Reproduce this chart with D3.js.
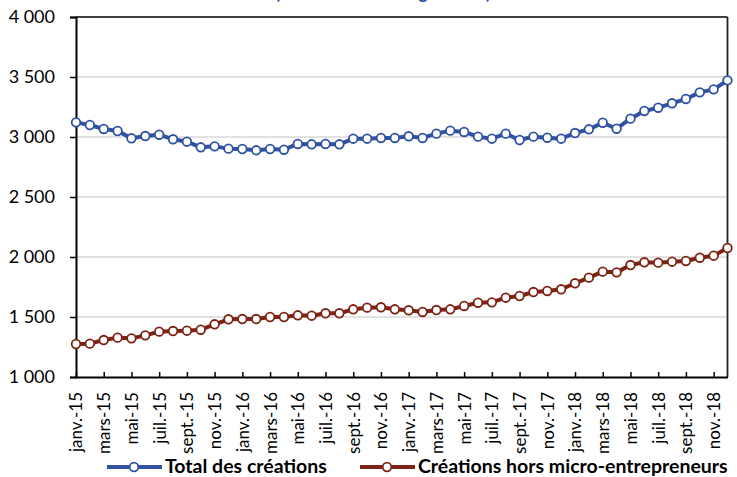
<!DOCTYPE html>
<html><head><meta charset="utf-8">
<script src="https://cdn.jsdelivr.net/npm/d3@7"></script>
<style>
body{margin:0;background:#fff;}
svg{display:block;font-family:Lato,"Open Sans",sans-serif;}
</style></head>
<body><svg id="c" width="737" height="477"></svg>
<script>
const monthNames = ["janv.","févr.","mars","avr.","mai","juin","juil.","août","sept.","oct.","nov.","déc."];
const years = ["15","16","17","18"];
const categories = years.flatMap(y => monthNames.map(m => m + "-" + y));
const totalCreations = [3122,3100,3067,3050,2989,3008,3019,2981,2961,2914,2922,2903,
  2900,2889,2900,2894,2942,2939,2942,2939,2986,2986,2992,2992,
  3006,2992,3028,3053,3042,3003,2986,3028,2975,3003,2994,2986,
  3033,3064,3119,3069,3153,3217,3244,3281,3317,3372,3397,3472];
const horsMicro = [1275,1278,1308,1328,1322,1347,1378,1383,1386,1394,1439,1481,
  1483,1483,1500,1500,1514,1511,1531,1531,1564,1578,1581,1564,
  1556,1542,1558,1564,1592,1619,1622,1661,1675,1708,1717,1731,
  1781,1828,1878,1872,1933,1956,1953,1961,1967,1994,2011,2075];
const yTicks = [1000,1500,2000,2500,3000,3500,4000];
const seriesNames = ["Total des créations","Créations hors micro-entrepreneurs"];
const seriesColors = ["#2F52A3","#7E2314"];
const titleText = "(cumul sur 3 mois glissants)";

const svg = d3.select("#c");
const L = 76, R = 727.5, T = 17, B = 377;
const x = d3.scalePoint().domain(categories).range([L, R]).padding(0);
const y = d3.scaleLinear().domain([1000, 4000]).range([B, T]);
const loc = d3.formatLocale({decimal:",", thousands:"\u00a0", grouping:[3], currency:["","€"]});
const fmt = loc.format(",");

// title (clipped at top, as in the reference)
svg.append("text").attr("x", 383).attr("y", -1).attr("text-anchor","middle")
  .attr("font-size", 18).attr("font-weight","bold").attr("fill","#2F52A3").text(titleText);

// gridlines
svg.append("g").selectAll("line").data(yTicks.slice(1, -1)).join("line")
  .attr("x1", L).attr("x2", R).attr("y1", d => y(d)).attr("y2", d => y(d))
  .attr("stroke", "#D9D9D9").attr("stroke-width", 1.5);

// frame top/right
svg.append("line").attr("x1", L).attr("x2", R).attr("y1", T).attr("y2", T).attr("stroke","#000").attr("stroke-width",1.5);
svg.append("line").attr("x1", R).attr("x2", R).attr("y1", T).attr("y2", B).attr("stroke","#222").attr("stroke-width",1.8);

// y axis
const ya = svg.append("g").attr("transform", `translate(${L},0)`)
  .call(d3.axisLeft(y).tickValues(yTicks).tickFormat(fmt).tickSize(6).tickPadding(15));
ya.select(".domain").attr("stroke","#000").attr("stroke-width",2);
ya.selectAll(".tick line").attr("stroke","#000").attr("stroke-width",1.5);
ya.selectAll("text").attr("font-size", 18).attr("font-family","Lato").attr("fill","#000");

// x axis
const xa = svg.append("g").attr("transform", `translate(0,${B})`)
  .call(d3.axisBottom(x).tickValues(categories.filter((d,i) => i % 2 === 0)).tickSize(-5).tickPadding(8).tickSizeOuter(0));
xa.select(".domain").attr("stroke","#000").attr("stroke-width",2);
xa.selectAll(".tick line").attr("stroke","#000").attr("stroke-width",1.5);
xa.selectAll("text").attr("font-size", 17).attr("font-family","Lato").attr("fill","#000")
  .attr("transform","rotate(-90)").attr("text-anchor","end")
  .attr("x", -15).attr("y", 0).attr("dy","0.35em");

// series
const series = [totalCreations, horsMicro];
const line = d3.line().x((d,i) => x(categories[i])).y(d => y(d));
series.forEach((vals, s) => {
  const g = svg.append("g");
  g.append("path").datum(vals).attr("d", line).attr("fill","none")
    .attr("stroke", seriesColors[s]).attr("stroke-width", 4).attr("stroke-linejoin","round");
  g.selectAll("circle").data(vals).join("circle")
    .attr("cx", (d,i) => x(categories[i])).attr("cy", d => y(d)).attr("r", 4.3)
    .attr("fill","#fff").attr("stroke", seriesColors[s]).attr("stroke-width", 1.8);
});

// legend
const legendX = [107, 360];
const leg = svg.append("g");
seriesNames.forEach((name, s) => {
  const lx = legendX[s], ly = 467;
  leg.append("line").attr("x1", lx).attr("x2", lx + 55).attr("y1", ly).attr("y2", ly)
    .attr("stroke", seriesColors[s]).attr("stroke-width", 4);
  leg.append("circle").attr("cx", lx + 27).attr("cy", ly).attr("r", 4.3)
    .attr("fill","#fff").attr("stroke", seriesColors[s]).attr("stroke-width", 1.8);
  leg.append("text").attr("x", lx + 58).attr("y", ly + 5.5).attr("font-size", 19.5)
    .attr("font-weight","bold").attr("fill","#000").text(name);
});
</script></body></html>
